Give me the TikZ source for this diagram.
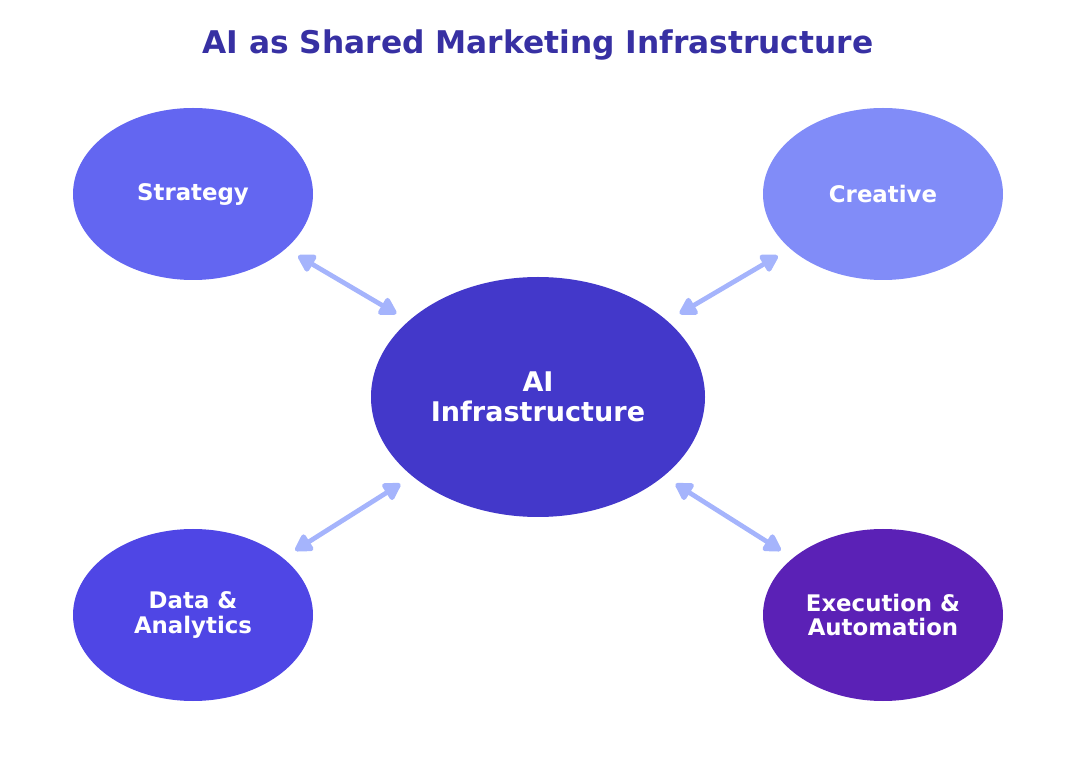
\documentclass[tikz,border=0pt]{standalone}
\usepackage{fontspec}
\setmainfont{DejaVu Sans}
\usepackage{tikz}
\usetikzlibrary{arrows.meta,shapes.geometric}

\definecolor{titlecol}{HTML}{3730A3}
\definecolor{hubcol}{HTML}{4338CA}
\definecolor{stratcol}{HTML}{6366F1}
\definecolor{creacol}{HTML}{818CF8}
\definecolor{datacol}{HTML}{4F46E5}
\definecolor{execcol}{HTML}{5B21B6}
\definecolor{linkcol}{HTML}{A5B4FC}

\begin{document}
\begin{tikzpicture}
	[x=0.02cm,y=-0.02cm,
		part node/.style={ellipse,fill,text=white,font=\fontsize{13}{14.2}\selectfont\bfseries,align=center,minimum width=240*0.02cm,minimum height=172*0.02cm,inner sep=0pt},
		hub node/.style={ellipse,fill=hubcol,text=white,font=\fontsize{15.4}{16.8}\selectfont\bfseries,align=center,minimum width=334*0.02cm,minimum height=240*0.02cm,inner sep=0pt},
		link/.style={{Triangle[length=11pt,width=12pt,round]}-{Triangle[length=11pt,width=12pt,round]},draw=linkcol,fill=linkcol,line width=2.7pt,shorten >=8pt,shorten <=8pt}]

	\useasboundingbox (0,0) rectangle (1076,780);

	\node[font=\fontsize{17.8}{20}\selectfont\bfseries,text=titlecol] (title) at (538,45) {AI as Shared Marketing Infrastructure};

	\node[hub node]    (ai)     at (538,397)  {AI\\Infrastructure};
	\node[part node,fill=stratcol]    (strategy)  at (193,194)  {Strategy};
	\node[part node,fill=creacol]     (creative)  at (883,194)  {Creative};
	\node[part node,fill=datacol]     (data)      at (193,615)  {Data \&\\Analytics};
	\node[part node,fill=execcol]     (exec)      at (883,615)  {Execution \&\\Automation};

	\draw[link] (strategy) -- (ai);
	\draw[link] (ai) -- (creative);
	\draw[link] (ai) -- (data);
	\draw[link] (exec) -- (ai);

\end{tikzpicture}
\end{document}
